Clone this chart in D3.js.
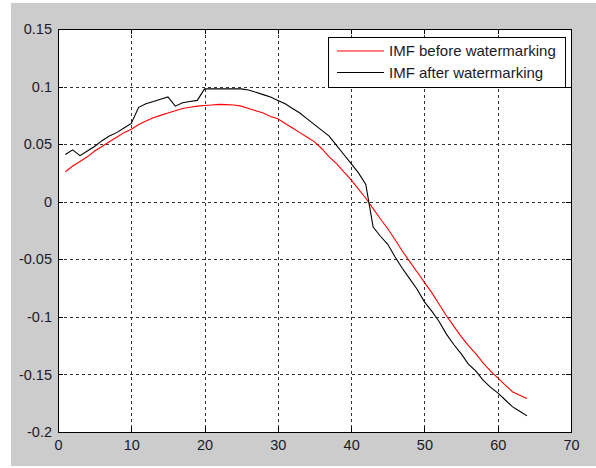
<!DOCTYPE html>
<html>
<head>
<meta charset="utf-8">
<script src="https://cdn.jsdelivr.net/npm/d3@7.9.0/dist/d3.min.js"></script>
<style>
  html, body { margin: 0; padding: 0; background: #fff; }
  svg { display: block; }
</style>
</head>
<body>
<svg id="chart" width="596" height="468"></svg>
<script>
// sample index 1..64
var xs = d3.range(1, 65)

var imfBefore = [
    0.026, 0.031, 0.035, 0.039, 0.044, 0.048, 0.052, 0.056, 0.060, 0.063,
    0.067, 0.070, 0.073, 0.075, 0.077, 0.079, 0.081, 0.082, 0.083, 0.0835,
    0.084, 0.0845, 0.0843, 0.084, 0.083, 0.081, 0.079, 0.077, 0.074, 0.072,
    0.068, 0.064, 0.060, 0.056, 0.052, 0.046, 0.039, 0.033, 0.026, 0.019,
    0.011, 0.003, -0.006, -0.015, -0.0235, -0.033, -0.043, -0.052, -0.061, -0.070,
    -0.079, -0.089, -0.099, -0.108, -0.117, -0.125, -0.132, -0.140, -0.147, -0.153,
    -0.159, -0.165, -0.168, -0.171
]

var imfAfter = [
    0.041, 0.045, 0.040, 0.044, 0.048, 0.053, 0.057, 0.060, 0.064, 0.068,
    0.082, 0.085, 0.087, 0.089, 0.091, 0.083, 0.086, 0.087, 0.088, 0.098,
    0.098, 0.098, 0.098, 0.098, 0.098, 0.097, 0.095, 0.093, 0.091, 0.088,
    0.085, 0.081, 0.077, 0.072, 0.067, 0.062, 0.057, 0.049, 0.041, 0.033,
    0.025, 0.015, -0.022, -0.030, -0.037, -0.048, -0.058, -0.067, -0.076, -0.087,
    -0.095, -0.104, -0.115, -0.124, -0.132, -0.141, -0.147, -0.155, -0.161, -0.166,
    -0.172, -0.178, -0.182, -0.186
]

var xTicks = [0, 10, 20, 30, 40, 50, 60, 70]
var yTicks = [-0.2, -0.15, -0.1, -0.05, 0, 0.05, 0.1, 0.15]
var seriesNames = ['IMF before watermarking', 'IMF after watermarking']
var seriesColors = ['#ff0000', '#000000']

;(function () {
    var svg = d3.select('#chart')
    var pL = 58, pR = 571, pT = 29, pB = 432

    // figure background (MATLAB grey)
    svg.append('rect')
        .attr('x', 11).attr('y', 3)
        .attr('width', 585).attr('height', 463)
        .attr('fill', '#cccccc')

    var x = d3.scaleLinear().domain([0, 70]).range([pL, pR])
    var y = d3.scaleLinear().domain([-0.2, 0.15]).range([pB, pT])

    svg.append('rect')
        .attr('x', pL).attr('y', pT)
        .attr('width', pR - pL).attr('height', pB - pT)
        .attr('fill', '#ffffff')

    // grid
    var grid = svg.append('g')
        .attr('stroke', '#000')
        .attr('stroke-width', 1)
        .attr('stroke-dasharray', '3,3')
        .attr('shape-rendering', 'crispEdges')
        .attr('opacity', 0.8)

    grid.selectAll('line.gx')
        .data(xTicks.slice(1, -1))
        .join('line')
        .attr('class', 'gx')
        .attr('x1', function (d) { return Math.round(x(d)) + 0.5 })
        .attr('x2', function (d) { return Math.round(x(d)) + 0.5 })
        .attr('y1', pT).attr('y2', pB)

    grid.selectAll('line.gy')
        .data(yTicks.slice(1, -1))
        .join('line')
        .attr('class', 'gy')
        .attr('y1', function (d) { return Math.round(y(d)) + 0.5 })
        .attr('y2', function (d) { return Math.round(y(d)) + 0.5 })
        .attr('x1', pL).attr('x2', pR)

    // lines
    var line = d3.line()
        .x(function (d, i) { return x(xs[i]) })
        .y(function (d) { return y(d) })

    svg.append('path')
        .datum(imfBefore)
        .attr('d', line)
        .attr('fill', 'none')
        .attr('stroke', seriesColors[0])
        .attr('stroke-width', 1.1)

    svg.append('path')
        .datum(imfAfter)
        .attr('d', line)
        .attr('fill', 'none')
        .attr('stroke', seriesColors[1])
        .attr('stroke-width', 1.1)

    // axes (ticks inward, MATLAB style)
    var fontFam = 'Arial, "Liberation Sans", sans-serif'

    function styleAxis(g) {
        g.select('.domain').remove()
        g.selectAll('.tick line').attr('stroke', '#000').attr('shape-rendering', 'crispEdges')
        g.selectAll('.tick text')
            .attr('fill', '#1a1a2a')
            .attr('font-size', 14.5)
            .attr('font-family', fontFam)
    }

    svg.append('g')
        .attr('transform', 'translate(0,' + pB + ')')
        .call(d3.axisBottom(x).tickValues(xTicks).tickFormat(d3.format('d')).tickSizeInner(-5).tickSizeOuter(0).tickPadding(8))
        .call(styleAxis)

    svg.append('g')
        .attr('transform', 'translate(0,' + pT + ')')
        .call(d3.axisTop(x).tickValues(xTicks).tickFormat('').tickSizeInner(-5).tickSizeOuter(0))
        .call(styleAxis)

    svg.append('g')
        .attr('transform', 'translate(' + pL + ',0)')
        .call(d3.axisLeft(y).tickValues(yTicks).tickFormat(function (d) { return String(+d.toFixed(2)) }).tickSizeInner(-5).tickSizeOuter(0).tickPadding(6))
        .call(styleAxis)

    svg.append('g')
        .attr('transform', 'translate(' + pR + ',0)')
        .call(d3.axisRight(y).tickValues(yTicks).tickFormat('').tickSizeInner(-5).tickSizeOuter(0))
        .call(styleAxis)

    // box
    svg.append('rect')
        .attr('x', pL + 0.5).attr('y', pT + 0.5)
        .attr('width', pR - pL).attr('height', pB - pT)
        .attr('fill', 'none')
        .attr('stroke', '#000')
        .attr('stroke-width', 1)
        .attr('shape-rendering', 'crispEdges')

    // legend
    var lg = svg.append('g').attr('transform', 'translate(328,37)')
    lg.append('rect')
        .attr('x', 0.5).attr('y', 0.5)
        .attr('width', 237).attr('height', 50)
        .attr('fill', '#fff')
        .attr('stroke', '#000')
        .attr('shape-rendering', 'crispEdges')

    seriesNames.forEach(function (name, i) {
        var yy = 14 + i * 21.5
        lg.append('line')
            .attr('x1', 9).attr('x2', 56)
            .attr('y1', yy).attr('y2', yy)
            .attr('stroke', seriesColors[i])
            .attr('stroke-width', 1.1)
        lg.append('text')
            .attr('x', 61).attr('y', yy + 5)
            .attr('font-size', 15)
            .attr('font-family', fontFam)
            .attr('fill', '#1a1a2a')
            .text(name)
    })
})()
</script>
</body>
</html>
